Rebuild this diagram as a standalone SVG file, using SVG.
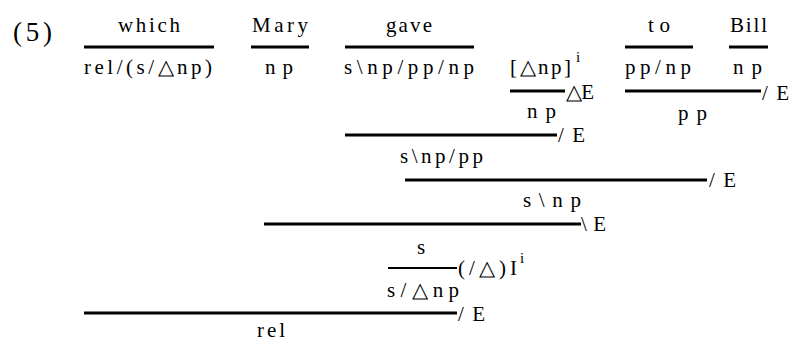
<svg xmlns="http://www.w3.org/2000/svg" width="791" height="345" viewBox="0 0 791 345">
<style>
.t{font-family:"Liberation Serif","Times New Roman",serif;font-size:21px;fill:#000}
.sup{font-family:"Liberation Serif","Times New Roman",serif;font-size:15px;fill:#000}
.big{font-family:"Liberation Serif","Times New Roman",serif;font-size:27px;fill:#000}
.r{stroke:#000;stroke-width:3;fill:none}
.rt{stroke:#000;stroke-width:2;fill:none}
</style>
<rect width="791" height="345" fill="#fff"/>
<text class="big" x="13" y="41" textLength="39">(5)</text>
<g id="which">
<text class="t" x="118" y="32" textLength="62">which</text>
<text class="t" x="84" y="74" textLength="128">rel/(s/△np)</text>
</g>
<g id="mary">
<text class="t" x="252" y="32" textLength="56">Mary</text>
<text class="t" x="265" y="74" textLength="28">np</text>
</g>
<g id="gave">
<text class="t" x="386" y="32" textLength="46">gave</text>
<text class="t" x="344" y="74" textLength="130">s\np/pp/np</text>
</g>
<g id="hyp">
<text class="t" x="510" y="74" textLength="61">[△np]</text>
<text class="sup" x="576" y="62">i</text>
<text class="t" x="527" y="118" textLength="29">np</text>
</g>
<g id="to">
<text class="t" x="648" y="32" textLength="22">to</text>
<text class="t" x="625" y="74" textLength="66">pp/np</text>
</g>
<g id="bill">
<text class="t" x="730" y="32" textLength="37">Bill</text>
<text class="t" x="733" y="74" textLength="29">np</text>
</g>
<g id="pp">
<text class="t" x="678" y="120" textLength="29">pp</text>
</g>
<g id="vp1">
<text class="t" x="400" y="163" textLength="83">s\np/pp</text>
</g>
<g id="vp">
<text class="t" x="523" y="207" textLength="58">s\np</text>
</g>
<g id="s">
<text class="t" x="417" y="254" textLength="10">s</text>
</g>
<g id="sslash">
<text class="t" x="387" y="297" textLength="72">s/△np</text>
</g>
<g id="rel">
<text class="t" x="257" y="337" textLength="28">rel</text>
</g>
<g id="connectors">
<line class="r" x1="84" y1="47" x2="214" y2="47"/>
<line class="r" x1="251" y1="47" x2="309" y2="47"/>
<line class="r" x1="345" y1="47" x2="474" y2="47"/>
<line class="r" x1="625" y1="47" x2="693" y2="47"/>
<line class="r" x1="729" y1="47" x2="768" y2="47"/>
<line class="r" x1="510" y1="91" x2="565" y2="91"/>
<text class="t" x="566" y="99" textLength="28">△E</text>
<line class="r" x1="625" y1="91" x2="761" y2="91"/>
<text class="t" x="762" y="100" textLength="27">/E</text>
<line class="r" x1="345" y1="135" x2="557" y2="135"/>
<text class="t" x="558" y="142" textLength="27">/E</text>
<line class="r" x1="405" y1="180" x2="707" y2="180"/>
<text class="t" x="709" y="187" textLength="27">/E</text>
<line class="r" x1="264" y1="224" x2="581" y2="224"/>
<text class="t" x="581" y="231" textLength="25">\E</text>
<line class="rt" x1="388" y1="268" x2="457" y2="268"/>
<text class="t" x="458" y="275" textLength="59">(/△)I</text>
<text class="sup" x="520" y="263">i</text>
<line class="r" x1="84" y1="313" x2="457" y2="313"/>
<text class="t" x="458" y="321" textLength="27">/E</text>
</g>
</svg>
